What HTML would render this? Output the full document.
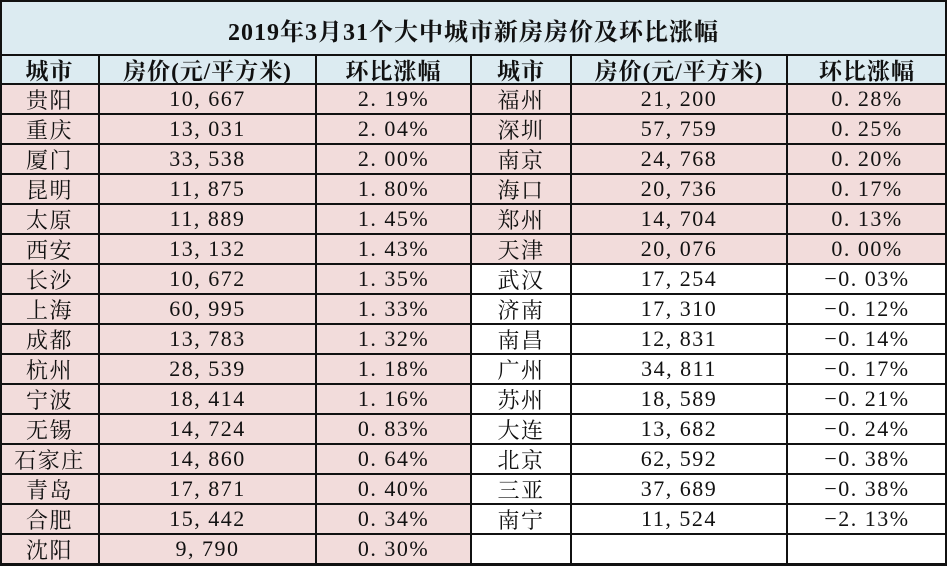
<!DOCTYPE html>
<html><head><meta charset="utf-8">
<style>
html,body{margin:0;padding:0;background:#fff;}
#wrap{position:relative;width:947px;height:566px;overflow:hidden;font-family:"Liberation Serif","Noto Serif CJK SC",serif;color:#111;}
.c{position:absolute;box-sizing:border-box;display:flex;align-items:center;justify-content:center;font-size:22px;letter-spacing:1.5px;white-space:nowrap;}
.hl{position:absolute;background:#111;}
</style></head><body>
<div id="wrap">
<div class="c" style="left:0;top:0;width:947px;height:55px;background:#dcebf1;font-weight:bold;font-size:24px;letter-spacing:1px;padding-top:4px;">2019年3月31个大中城市新房房价及环比涨幅</div>
</div>
<script>
const leftCities=["贵阳","重庆","厦门","昆明","太原","西安","长沙","上海","成都","杭州","宁波","无锡","石家庄","青岛","合肥","沈阳"];
const leftPrices=["10,667","13,031","33,538","11,875","11,889","13,132","10,672","60,995","13,783","28,539","18,414","14,724","14,860","17,871","15,442","9,790"];
const leftChanges=["2.19%","2.04%","2.00%","1.80%","1.45%","1.43%","1.35%","1.33%","1.32%","1.18%","1.16%","0.83%","0.64%","0.40%","0.34%","0.30%"];
const rightCities=["福州","深圳","南京","海口","郑州","天津","武汉","济南","南昌","广州","苏州","大连","北京","三亚","南宁"];
const rightPrices=["21,200","57,759","24,768","20,736","14,704","20,076","17,254","17,310","12,831","34,811","18,589","13,682","62,592","37,689","11,524"];
const rightChanges=["0.28%","0.25%","0.20%","0.17%","0.13%","0.00%","-0.03%","-0.12%","-0.14%","-0.17%","-0.21%","-0.24%","-0.38%","-0.38%","-2.13%"];
const headers=["城市","房价(元/平方米)","环比涨幅","城市","房价(元/平方米)","环比涨幅"];
const W=document.getElementById('wrap');
const xs=[0,99,316,471,571,787,947];
const top0=55,hH=29,rH=30,rows=16;
function cell(i,y,h,text,bg,bold,name){
  const d=document.createElement('div');
  d.className='c';
  
  
  d.style.left=xs[i]+'px';d.style.top=y+'px';d.style.width=(xs[i+1]-xs[i])+'px';d.style.height=h+'px';
  d.style.background=bg;
  if(bold){d.style.fontWeight='bold';d.style.fontSize='23px';d.style.letterSpacing='1px';}
  d.textContent=text.replace('-','−').replace(',',', ').replace('.','. ');
  W.appendChild(d);
}
headers.forEach((t,i)=>cell(i,top0,hH,t,'#dcebf1',true,'column-header'));
const pink='#f2dcdb';
for(let r=0;r<rows;r++){
  const y=top0+hH+r*rH;
  cell(0,y,rH,leftCities[r],pink,false,'city-cell');
  cell(1,y,rH,leftPrices[r],pink,false,'price-cell');
  cell(2,y,rH,leftChanges[r],pink,false,'change-cell');
  const rb=(r<rightChanges.length && parseFloat(rightChanges[r])>=0)?pink:'#fff';
  cell(3,y,rH,rightCities[r]||'',rb,false,'city-cell');
  cell(4,y,rH,rightPrices[r]||'',rb,false,'price-cell');
  cell(5,y,rH,rightChanges[r]||'',rb,false,'change-cell');
}
function line(x,y,w,h){const l=document.createElement('div');l.className='hl';


l.style.left=x+'px';l.style.top=y+'px';l.style.width=w+'px';l.style.height=h+'px';W.appendChild(l);}
line(0,0,947,2);line(0,564,947,2);line(0,0,2,566);line(945,0,2,566);
line(0,top0-1,947,2);
for(let r=0;r<=rows;r++){line(0,top0+hH+r*rH-1,947,2);}
for(let i=1;i<6;i++){line(xs[i]-1,top0,2,566-top0);}
</script>
</body></html>
